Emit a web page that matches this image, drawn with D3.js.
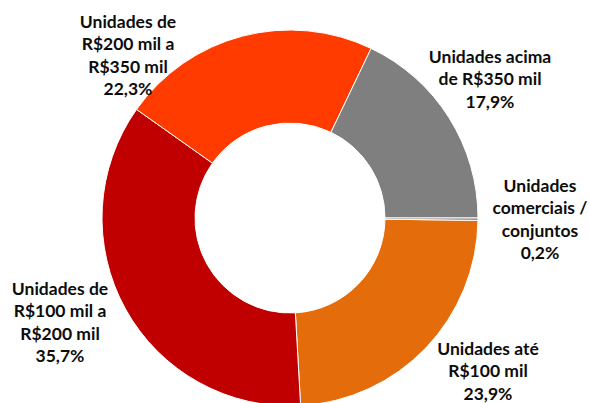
<!DOCTYPE html>
<html><head><meta charset="utf-8">
<script src="https://cdn.jsdelivr.net/npm/d3@7"></script>
<style>body{margin:0;background:#fff}svg{display:block}text{font-family:Lato,"Open Sans",sans-serif;font-weight:bold;fill:#0d0d0d}</style>
</head><body><svg id="c" width="589" height="403"></svg>
<script>
const categories = ["Unidades até R$100 mil","Unidades de R$100 mil a R$200 mil","Unidades de R$200 mil a R$350 mil","Unidades acima de R$350 mil","Unidades comerciais / conjuntos"];
const values = [23.9, 35.7, 22.3, 17.9, 0.2];
const valueLabels = ["23,9%","35,7%","22,3%","17,9%","0,2%"];
const labelLines = [["Unidades até","R$100 mil"],["Unidades de","R$100 mil a","R$200 mil"],["Unidades de","R$200 mil a","R$350 mil"],["Unidades acima","de R$350 mil"],["Unidades","comerciais /","conjuntos"]];
const colors = ["#E46C0A","#C00000","#FF3B00","#7F7F7F","#7F7F7F"];
const labelPos = [[488,349],[60,289],[128,22],[490,57],[540,186]];

const svg = d3.select("#c");
const cx = 290, cy = 218, R = 188, r = 95;
const start = (90 + 0.72) * Math.PI/180;
const pie = d3.pie().sort(null).value(d=>d).startAngle(start).endAngle(start + 2*Math.PI);
const arc = d3.arc().innerRadius(r).outerRadius(R);
const g = svg.append("g").attr("transform",`translate(${cx},${cy})`);
g.selectAll("path").data(pie(values)).join("path")
  .attr("d",arc).attr("fill",(d,i)=>colors[i]).attr("stroke","#fff").attr("stroke-width",1);
labelLines.forEach((lines,i)=>{
  const all = lines.concat([valueLabels[i]]);
  const t = svg.append("text").attr("text-anchor","middle").attr("font-size",17.5);
  all.forEach((s,j)=>t.append("tspan").attr("x",labelPos[i][0]).attr("y",labelPos[i][1]+j*22.3).attr("dy","0.35em").text(s));
});
</script></body></html>
